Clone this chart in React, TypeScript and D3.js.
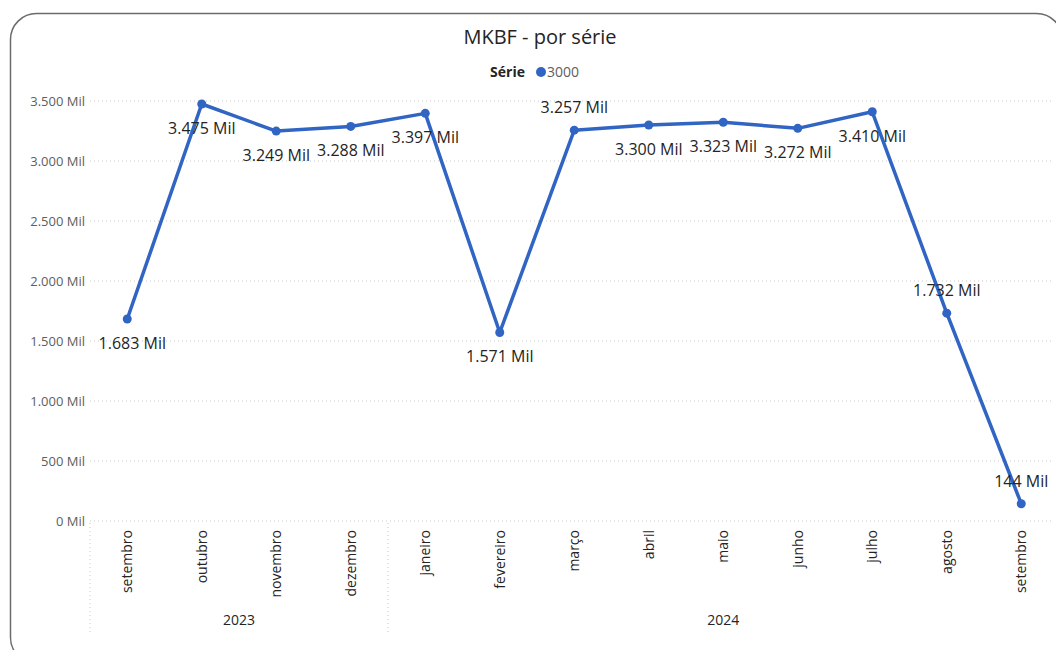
import React from "react";
import * as d3 from "d3";

const months = ["setembro","outubro","novembro","dezembro","janeiro","fevereiro","março","abril","maio","junho","julho","agosto","setembro"];
const years = ["2023","2023","2023","2023","2024","2024","2024","2024","2024","2024","2024","2024","2024"];
const values = [1683, 3475, 3249, 3288, 3397, 1571, 3257, 3300, 3323, 3272, 3410, 1732, 144];
const labelAbove = [false,false,false,false,false,false,true,false,false,false,false,true,true];
const yTicks = [0, 500, 1000, 1500, 2000, 2500, 3000, 3500];
const seriesName = "3000";

const W = 1056, H = 650;
const left = 90, right = 1058.5, top = 101, bottom = 521;
const COLOR = "#3165C3";
const FONT = "'Segoe UI', 'Open Sans', 'Noto Sans', sans-serif";

const fmt = (v: number) => d3.format(",")(v).replace(/,/g, ".") + " Mil";

export default function App() {
  const keys = months.map((m, i) => i);
  const x = d3.scaleBand<number>().domain(keys).range([left, right]);
  const cx = (i: number) => (x(i) as number) + x.bandwidth() / 2;
  const y = d3.scaleLinear().domain([0, 3500]).range([bottom, top]);
  const line = d3.line<number>().x((d, i) => cx(i)).y(d => y(d));

  const groups: { year: string; start: number; end: number }[] = [];
  years.forEach((yr, i) => {
    const g = groups[groups.length - 1];
    if (g && g.year === yr) g.end = i;
    else groups.push({ year: yr, start: i, end: i });
  });

  return (
    <svg width={W} height={H} style={{ position: "absolute", left: 0, top: 0, fontFamily: FONT }}>
      <rect x={0} y={0} width={W} height={H} fill="#fff" />
      <rect x={10.5} y={13.5} width={1052} height={650} rx={26} ry={26} fill="#fff" stroke="#6b6b6b" strokeWidth={1.5} />
      <text x={540} y={44} textAnchor="middle" fontSize={20} fill="#252423">MKBF - por série</text>
      <g fontSize={14}>
        <text x={525} y={77} textAnchor="end" fontWeight="bold" fill="#252423">Série</text>
        <circle cx={541} cy={72} r={5} fill={COLOR} />
        <text x={547} y={77} fill="#605E5C">{seriesName}</text>
      </g>
      {yTicks.map(t => (
        <g key={t}>
          <line x1={left} x2={1052} y1={y(t)} y2={y(t)} stroke="#c8c8c8" strokeWidth={1} strokeDasharray="1 3" />
          <text x={85} y={y(t) + 4.5} textAnchor="end" fontSize={13} fill="#605E5C">{fmt(t)}</text>
        </g>
      ))}
      {groups.map((g, gi) => {
        const x0 = x(g.start) as number;
        const x1 = (x(g.end) as number) + x.bandwidth();
        return (
          <g key={gi}>
            <line x1={x0} x2={x0} y1={bottom + 2} y2={635} stroke="#c8c8c8" strokeDasharray="1 3" />
            <text x={(x0 + x1) / 2} y={625} textAnchor="middle" fontSize={14} fill="#252423">{g.year}</text>
          </g>
        );
      })}
      {months.map((m, i) => (
        <text key={i} transform={`translate(${cx(i) + 5},${bottom + 9}) rotate(-90)`} textAnchor="end" fontSize={14} fill="#252423">{m}</text>
      ))}
      <path d={line(values) || ""} fill="none" stroke={COLOR} strokeWidth={3.5} strokeLinejoin="round" />
      {values.map((v, i) => (
        <circle key={i} cx={cx(i)} cy={y(v)} r={4.5} fill={COLOR} />
      ))}
      {values.map((v, i) => (
        <text key={i} x={cx(i) + (i === 0 ? 5 : 0)} y={labelAbove[i] ? y(v) - 17 : y(v) + 30} textAnchor="middle" fontSize={16} fill="#252423">{fmt(v)}</text>
      ))}
    </svg>
  );
}
